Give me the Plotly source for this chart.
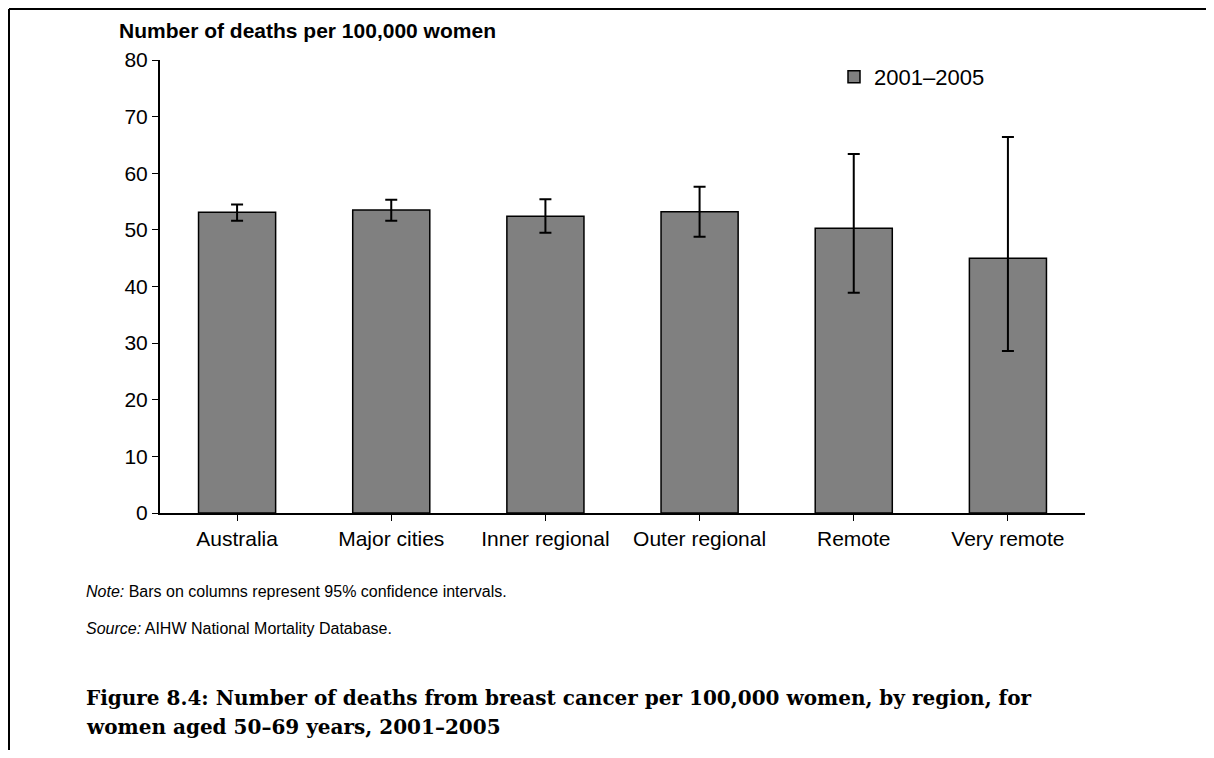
import plotly.graph_objects as go

REGIONS = ["Australia", "Major cities", "Inner regional", "Outer regional", "Remote", "Very remote"]
RATES = [53.1, 53.5, 52.4, 53.2, 50.3, 45.0]
CI_LOW = [51.6, 51.6, 49.5, 48.8, 38.9, 28.6]
CI_HIGH = [54.5, 55.3, 55.4, 57.6, 63.4, 66.4]
SERIES_NAME = "2001–2005"

BAR_COLOR = "#808080"
SANS = "Liberation Sans, Arial, sans-serif"
SERIF = "DejaVu Serif, Liberation Serif, serif"

# the page puts the figure 8px in from the top-left corner (body margin)
PAGE_W, PAGE_H, OFF = 1214, 758, 8
W, H = PAGE_W - 2 * OFF, PAGE_H - 2 * OFF
L, R, T, B = 160, 1085, 60, 513  # plot area, page pixels


def px(x):
    return (x - L) / (R - L)


def py(y):
    return (B - y) / (B - T)


err_plus = [hi - v for hi, v in zip(CI_HIGH, RATES)]
err_minus = [v - lo for lo, v in zip(CI_LOW, RATES)]

fig = go.Figure()
fig.add_trace(
    go.Bar(
        x=REGIONS,
        y=RATES,
        name=SERIES_NAME,
        width=0.5,
        marker={"color": BAR_COLOR, "line": {"color": "black", "width": 1.5}},
        error_y={
            "type": "data",
            "array": err_plus,
            "arrayminus": err_minus,
            "color": "black",
            "thickness": 2,
            "width": 6,
        },
        showlegend=True,
    )
)

annotations = [
    {
        "text": "<b>Number of deaths per 100,000 women</b>",
        "x": px(117), "y": py(30), "xanchor": "left", "yanchor": "middle",
        "font": {"size": 21},
    },
    {
        "text": "<i>Note:</i> Bars on columns represent 95% confidence intervals.",
        "x": px(84), "y": py(591), "xanchor": "left", "yanchor": "middle",
        "font": {"size": 16},
    },
    {
        "text": "<i>Source:</i> AIHW National Mortality Database.",
        "x": px(84), "y": py(628), "xanchor": "left", "yanchor": "middle",
        "font": {"size": 16},
    },
    {
        "text": "<b>Figure 8.4: Number of deaths from breast cancer per 100,000 women, by region, for</b>",
        "x": px(84), "y": py(698), "xanchor": "left", "yanchor": "middle",
        "font": {"size": 20, "family": SERIF},
    },
    {
        "text": "<b>women aged 50–69 years, 2001–2005</b>",
        "x": px(84), "y": py(727), "xanchor": "left", "yanchor": "middle",
        "font": {"size": 20, "family": SERIF},
    },
]
for a in annotations:
    a.update({"xref": "paper", "yref": "paper", "showarrow": False})

# page frame: top rule and left rule
shapes = [
    {"type": "line", "xref": "paper", "yref": "paper",
     "x0": px(9), "x1": px(OFF + W), "y0": py(9), "y1": py(9),
     "line": {"color": "black", "width": 2}},
    {"type": "line", "xref": "paper", "yref": "paper",
     "x0": px(9), "x1": px(9), "y0": py(9), "y1": py(OFF + H),
     "line": {"color": "black", "width": 2}},
]

fig.update_layout(
    width=W,
    height=H,
    margin={"l": L - OFF, "r": W - (R - OFF), "t": T - OFF, "b": H - (B - OFF), "pad": 0},
    paper_bgcolor="white",
    plot_bgcolor="white",
    font={"family": SANS, "size": 21, "color": "black"},
    showlegend=True,
    legend={
        "x": px(834), "y": py(56), "xanchor": "left", "yanchor": "top",
        "bgcolor": "rgba(0,0,0,0)", "font": {"size": 22},
    },
    annotations=annotations,
    shapes=shapes,
)
fig.update_xaxes(
    range=[-0.5, 5.5],
    showline=True, linecolor="black", linewidth=2,
    ticks="outside", ticklen=6, tickcolor="black", tickwidth=1,
    showgrid=False, zeroline=False,
    tickfont={"size": 21},
)
fig.update_yaxes(
    range=[0, 80], dtick=10,
    showline=True, linecolor="black", linewidth=2,
    ticks="outside", ticklen=6, tickcolor="black", tickwidth=1,
    showgrid=False, zeroline=False,
    tickfont={"size": 21},
)

fig.write_html("out.html", config={"displayModeBar": False})
